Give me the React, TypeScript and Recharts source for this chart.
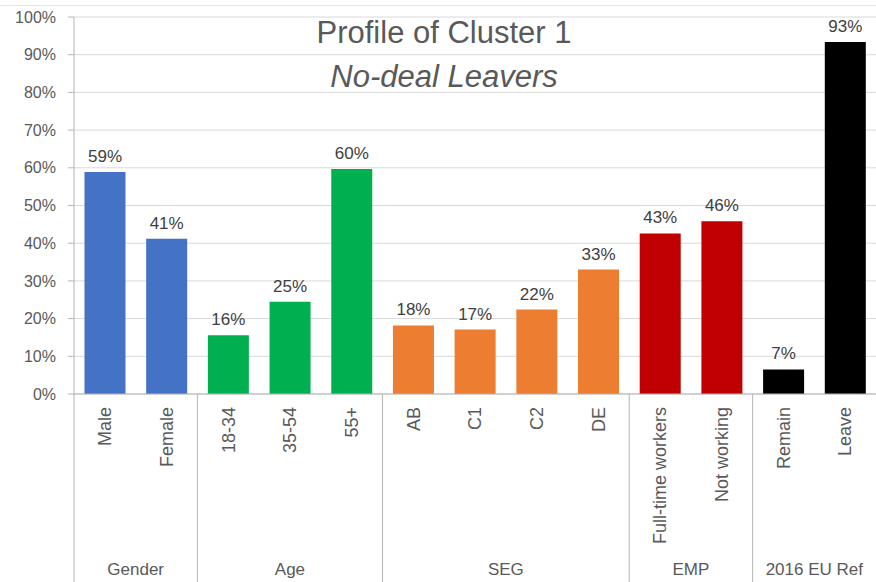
import { BarChart, Bar, XAxis, YAxis, CartesianGrid, Cell, LabelList } from 'recharts';

const categories = ['Male', 'Female', '18-34', '35-54', '55+', 'AB', 'C1', 'C2', 'DE', 'Full-time workers', 'Not working', 'Remain', 'Leave'];
const shares = [58.9, 41.2, 15.6, 24.5, 59.7, 18.2, 17.1, 22.4, 33.0, 42.6, 45.8, 6.5, 93.4];
const groups = ['Gender', 'Age', 'SEG', 'EMP', '2016 EU Ref'];
const groupSizes = [2, 3, 4, 2, 2];
const groupColors = ['#4472C4', '#00B050', '#ED7D31', '#C00000', '#000000'];
const yTicks = [0, 10, 20, 30, 40, 50, 60, 70, 80, 90, 100];

const W = 876;
const H = 582;
const AXIS_W = 74;
const XAXIS_H = 188;
const FONT = '"Liberation Sans", Arial, sans-serif';
const GREY = '#595959';
const LINE = '#B4B4B4';

// which group each category belongs to, and where each group starts
const groupOf: number[] = [];
const groupStart: Record<number, number> = {};
let pos = 0;
groupSizes.forEach((n, g) => {
  groupStart[pos] = g;
  for (let k = 0; k < n; k++) groupOf.push(g);
  pos += n;
});

const data = categories.map((name, i) => ({ name, value: shares[i], group: groupOf[i] }));
const band = (W - AXIS_W) / categories.length;

const CategoryTick = (props: any) => {
  const { x, y, payload } = props;
  const i = payload.index;
  const g = groupStart[i];
  return (
    <g>
      <text
        transform={`translate(${x},${y + 13}) rotate(-90)`}
        textAnchor="end"
        dy="0.35em"
        fontSize={18}
        fontFamily={FONT}
        fill={GREY}
      >
        {payload.value}
      </text>
      {g !== undefined && (
        <g>
          <line x1={x - band / 2} x2={x - band / 2} y1={y} y2={y + XAXIS_H} stroke={LINE} />
          <text
            x={x - band / 2 + (groupSizes[g] * band) / 2}
            y={y + 181}
            textAnchor="middle"
            fontSize={17}
            fontFamily={FONT}
            fill={GREY}
          >
            {groups[g]}
          </text>
        </g>
      )}
    </g>
  );
};

export default function App() {
  return (
    <div style={{ position: 'absolute', left: 0, top: 0, width: W, height: H, background: '#fff', fontFamily: FONT }}>
      <div style={{ position: 'absolute', left: 0, top: 5, width: W, borderTop: '1px solid #E6E6E6' }} />
      <BarChart width={W} height={H} data={data} margin={{ top: 17, right: 0, left: 0, bottom: 0 }} barCategoryGap="17%">
        <CartesianGrid vertical={false} stroke="#D9D9D9" />
        <XAxis
          dataKey="name"
          height={XAXIS_H}
          interval={0}
          tickLine={false}
          tickSize={0}
          tickMargin={0}
          axisLine={{ stroke: LINE }}
          tick={<CategoryTick />}
        />
        <YAxis
          width={AXIS_W}
          domain={[0, 100]}
          ticks={yTicks}
          interval={0}
          tickFormatter={(v: number) => `${v}%`}
          axisLine={{ stroke: LINE }}
          tickLine={{ stroke: LINE }}
          tickSize={6}
          tickMargin={12}
          tick={{ fontSize: 16, fill: GREY, fontFamily: FONT }}
        />
        <Bar dataKey="value" isAnimationActive={false}>
          {data.map((d, i) => (
            <Cell key={i} fill={groupColors[d.group]} />
          ))}
          <LabelList
            dataKey="value"
            position="top"
            offset={10}
            formatter={(v: any) => `${Math.round(Number(v))}%`}
            style={{ fontSize: 17, fill: '#404040', fontFamily: FONT }}
          />
        </Bar>
      </BarChart>
      <div
        style={{
          position: 'absolute',
          left: 0,
          width: W,
          top: 13,
          textAlign: 'center',
          color: GREY,
          fontSize: 31,
          lineHeight: '40px',
          paddingLeft: 6,
        }}
      >
        <div>Profile of Cluster 1</div>
        <div style={{ fontStyle: 'italic', marginTop: 4 }}>No-deal Leavers</div>
      </div>
    </div>
  );
}
